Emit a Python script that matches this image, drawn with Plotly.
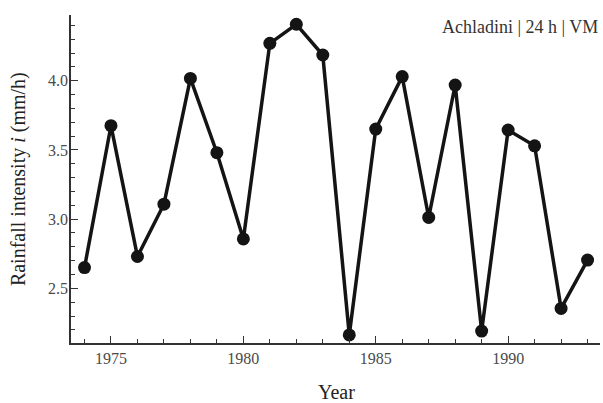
import plotly.graph_objects as go

years = list(range(1974, 1994))
intensity = [2.65, 3.675, 2.73, 3.108, 4.017, 3.48, 2.857, 4.27, 4.408, 4.186,
             2.163, 3.651, 4.03, 3.012, 3.969, 2.191, 3.644, 3.53, 2.355, 2.704]
x_ticks = [1975, 1980, 1985, 1990]
y_ticks = [2.5, 3.0, 3.5, 4.0]
y_tick_labels = ["2.5", "3.0", "3.5", "4.0"]

FONT = "Liberation Serif"

fig = go.Figure()
fig.add_trace(go.Scatter(
    x=years, y=intensity, mode="lines+markers",
    line=dict(color="#141414", width=3.5),
    marker=dict(color="#141414", size=13),
    showlegend=False, cliponaxis=False,
))

axis_common = dict(
    showgrid=False, zeroline=False, showline=True, linecolor="#333333", linewidth=1.5,
    ticks="inside", ticklen=7, tickwidth=1.2, tickcolor="#333333",
    tickfont=dict(family=FONT, size=16, color="#4a4a4a"),
)

fig.update_layout(
    width=603, height=403,
    margin=dict(l=71, r=3, t=15, b=60),
    paper_bgcolor="white", plot_bgcolor="white",
    xaxis=dict(range=[1973.49, 1993.47], tickvals=x_ticks,
               minor=dict(dtick=1, tick0=1974, ticks="inside", ticklen=4, tickcolor="#333333", tickwidth=1.2),
               **axis_common),
    yaxis=dict(range=[2.105, 4.475], tickvals=y_ticks, ticktext=y_tick_labels,
               ticklabelstandoff=-2,
               minor=dict(dtick=0.1, tick0=2.0, ticks="inside", ticklen=4, tickcolor="#333333", tickwidth=1.2),
               **axis_common),
    annotations=[
        dict(text="Achladini | 24 h | VM", xref="paper", yref="paper", x=1.0, y=0.963,
             xanchor="right", yanchor="middle", showarrow=False,
             font=dict(family=FONT, size=18, color="#333333")),
        dict(text="Year", xref="paper", yref="paper", x=0.502, y=-0.15,
             xanchor="center", yanchor="middle", showarrow=False,
             font=dict(family=FONT, size=20, color="#222222")),
        dict(text="Rainfall intensity <i>i</i> (mm/h)", xref="paper", yref="paper",
             x=-0.1, y=0.5, xanchor="center", yanchor="middle", textangle=-90, showarrow=False,
             font=dict(family=FONT, size=20, color="#222222")),
    ],
)

fig.write_html("out.html", config={"displayModeBar": False},
               post_script="document.body.style.margin='0';")
